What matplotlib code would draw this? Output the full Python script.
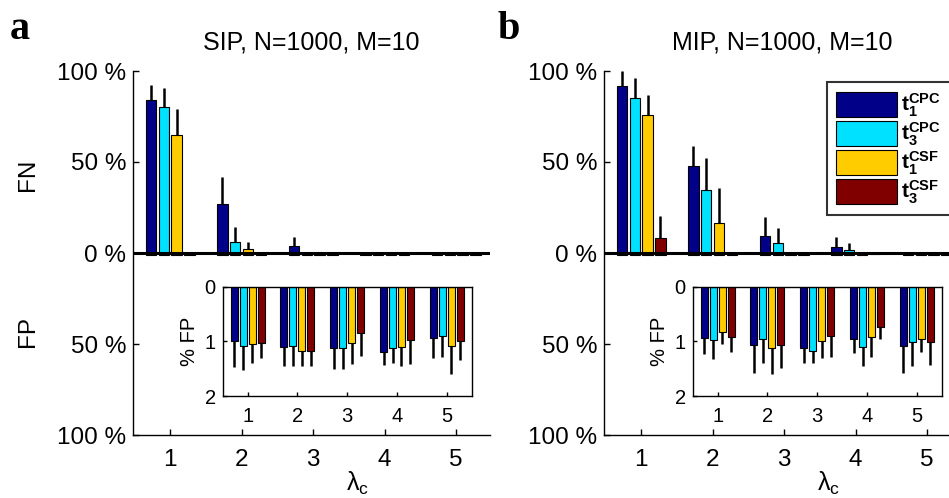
import matplotlib
matplotlib.use("Agg")
import matplotlib.pyplot as plt
import numpy as np

plt.rcParams['font.family'] = ['Liberation Sans', 'DejaVu Sans']
plt.rcParams['mathtext.fontset'] = 'custom'
plt.rcParams['mathtext.rm'] = 'Liberation Sans'
plt.rcParams['mathtext.it'] = 'Liberation Sans:italic'
plt.rcParams['mathtext.bf'] = 'Liberation Sans:bold'

# ---------------- data ----------------
lambdas = [1, 2, 3, 4, 5]
series_labels = [r'$\mathbf{t_1^{CPC}}$', r'$\mathbf{t_3^{CPC}}$',
                 r'$\mathbf{t_1^{CSF}}$', r'$\mathbf{t_3^{CSF}}$']
colors = ['#000088', '#00E0FF', '#FFCC00', '#800000']

# SIP panel: false negatives (%) and upper error
sip_fn_t1cpc = [84, 27, 4, 0, 0]
sip_fn_t3cpc = [80, 6, 0, 0, 0]
sip_fn_t1csf = [65, 2, 0, 0, 0]
sip_fn_t3csf = [0, 0, 0, 0, 0]
sip_fn_err_t1cpc = [8.5, 15, 5, 0, 0]
sip_fn_err_t3cpc = [10.5, 8.5, 0, 0, 0]
sip_fn_err_t1csf = [14, 4, 0, 0, 0]
sip_fn_err_t3csf = [0, 0, 0, 0, 0]

# SIP panel: false positives (%) and lower error
sip_fp_t1cpc = [1.00, 1.11, 1.13, 1.19, 0.93]
sip_fp_t3cpc = [1.085, 1.08, 1.13, 1.13, 0.90]
sip_fp_t1csf = [1.04, 1.17, 1.03, 1.11, 1.08]
sip_fp_t3csf = [1.03, 1.17, 0.84, 0.97, 1.00]
sip_fp_err_t1cpc = [0.47, 0.34, 0.37, 0.24, 0.38]
sip_fp_err_t3cpc = [0.44, 0.37, 0.37, 0.26, 0.39]
sip_fp_err_t1csf = [0.35, 0.28, 0.39, 0.34, 0.51]
sip_fp_err_t3csf = [0.28, 0.28, 0.43, 0.44, 0.35]

# MIP panel: false negatives (%) and upper error
mip_fn_t1cpc = [92, 48, 9.6, 3.5, 0]
mip_fn_t3cpc = [85, 34.6, 5.5, 1.5, 0]
mip_fn_t1csf = [76, 16.6, 0, 0, 0]
mip_fn_t3csf = [8.3, 0, 0, 0, 0]
mip_fn_err_t1cpc = [8, 11, 10.4, 5.2, 0]
mip_fn_err_t3cpc = [11, 17.4, 8.5, 4.2, 0]
mip_fn_err_t1csf = [11, 19, 0, 0, 0]
mip_fn_err_t3csf = [12.2, 0, 0, 0, 0]

# MIP panel: false positives (%) and lower error
mip_fp_t1cpc = [0.93, 1.07, 1.13, 0.95, 1.08]
mip_fp_t3cpc = [0.97, 0.96, 1.17, 1.10, 1.01]
mip_fp_t1csf = [0.83, 1.12, 0.99, 0.92, 0.96]
mip_fp_t3csf = [0.92, 1.07, 0.91, 0.73, 1.01]
mip_fp_err_t1cpc = [0.31, 0.51, 0.26, 0.27, 0.50]
mip_fp_err_t3cpc = [0.36, 0.43, 0.23, 0.36, 0.44]
mip_fp_err_t1csf = [0.21, 0.47, 0.31, 0.36, 0.24]
mip_fp_err_t3csf = [0.27, 0.41, 0.37, 0.23, 0.43]

main_yticks = [100, 50, 0, -50, -100]
main_yticklabels = ['100 %', '50 %', '0 %', '50 %', '100 %']
inset_yticks = [0, 1, 2]

panels = [
    dict(letter='a', title='SIP, N=1000, M=10',
         fn=[sip_fn_t1cpc, sip_fn_t3cpc, sip_fn_t1csf, sip_fn_t3csf],
         fn_err=[sip_fn_err_t1cpc, sip_fn_err_t3cpc, sip_fn_err_t1csf, sip_fn_err_t3csf],
         fp=[sip_fp_t1cpc, sip_fp_t3cpc, sip_fp_t1csf, sip_fp_t3csf],
         fp_err=[sip_fp_err_t1cpc, sip_fp_err_t3cpc, sip_fp_err_t1csf, sip_fp_err_t3csf],
         labels=True, legend=False),
    dict(letter='b', title='MIP, N=1000, M=10',
         fn=[mip_fn_t1cpc, mip_fn_t3cpc, mip_fn_t1csf, mip_fn_t3csf],
         fn_err=[mip_fn_err_t1cpc, mip_fn_err_t3cpc, mip_fn_err_t1csf, mip_fn_err_t3csf],
         fp=[mip_fp_t1cpc, mip_fp_t3cpc, mip_fp_t1csf, mip_fp_t3csf],
         fp_err=[mip_fp_err_t1cpc, mip_fp_err_t3cpc, mip_fp_err_t1csf, mip_fp_err_t3csf],
         labels=False, legend=True),
]

# ---------------- layout ----------------
W, H = 949, 498
fig = plt.figure(figsize=(W / 100, H / 100), dpi=100)

main_rects = [[133 / W, 63 / H, 357 / W, 364 / H],
              [604 / W, 63 / H, 357 / W, 364 / H]]
inset_rects = [[222.7 / W, 102 / H, 249 / W, 109.3 / H],
               [692.7 / W, 102 / H, 249 / W, 109.3 / H]]
letter_x = [10 / W, 498 / W]

x = np.array(lambdas, dtype=float)
n = 4
step = 0.18
bw = 0.145
offsets = (np.arange(n) - (n - 1) / 2) * step

for p, mrect, irect, lx in zip(panels, main_rects, inset_rects, letter_x):
    ax = fig.add_axes(mrect)
    handles = []
    for i in range(n):
        fn = np.array(p['fn'][i])
        fne = np.array(p['fn_err'][i])
        fp = np.array(p['fp'][i])
        fpe = np.array(p['fp_err'][i])
        h = ax.bar(x + offsets[i], fn, bw, color=colors[i], edgecolor='k',
                   linewidth=0.8, zorder=2)
        handles.append(h)
        ax.errorbar(x + offsets[i], fn, yerr=[np.zeros_like(fne), fne], fmt='none',
                    ecolor='k', elinewidth=1.8, capsize=0, zorder=1)
        ax.bar(x + offsets[i], -fp, bw, color=colors[i], edgecolor='k',
               linewidth=0.8, zorder=2)
        ax.errorbar(x + offsets[i], -fp, yerr=[fpe, np.zeros_like(fpe)], fmt='none',
                    ecolor='k', elinewidth=1.2, capsize=0, zorder=1)
    ax.axhline(0, color='k', lw=2.2, zorder=3)
    ax.set_xlim(0.48, 0.48 + 357 / 71.5)
    ax.set_ylim(-100, 100)
    ax.set_xticks(lambdas)
    ax.set_yticks(main_yticks)
    ax.set_yticklabels(main_yticklabels)
    ax.spines['top'].set_visible(False)
    ax.spines['right'].set_visible(False)
    for s in ['left', 'bottom']:
        ax.spines[s].set_linewidth(1.0)
    ax.tick_params(direction='in', length=4, width=1, labelsize=17.5)
    ax.tick_params(axis='x', pad=10)
    ax.tick_params(axis='y', pad=5)
    ax.text(3.62, -0.095, r'$\mathrm{\lambda}_{\mathrm{c}}$',
            transform=ax.get_xaxis_transform(),
            ha='center', va='top', fontsize=18)
    ax.text(0.5, 1.077, p['title'], transform=ax.transAxes, ha='center',
            va='center', fontsize=18)
    fig.text(lx, 1 - 39 / H, p['letter'], family=['Liberation Serif', 'DejaVu Serif'],
             fontweight='bold', fontsize=29, ha='left', va='baseline')
    if p['labels']:
        ax.text(-0.293, 43, 'FN', transform=ax.get_yaxis_transform(), rotation=90,
                ha='center', va='center', fontsize=17.5)
        ax.text(-0.293, -43, 'FP', transform=ax.get_yaxis_transform(), rotation=90,
                ha='center', va='center', fontsize=17.5)
    if p['legend']:
        leg = ax.legend(handles, series_labels, loc='upper left',
                        bbox_to_anchor=(827 / W, 1 - 224 / H, 140 / W, 142 / H),
                        bbox_transform=fig.transFigure, borderaxespad=0,
                        mode='expand',
                        fancybox=False, frameon=True, fontsize=15,
                        handlelength=2.9, handleheight=1.45, labelspacing=0.08,
                        handletextpad=0.2, borderpad=0.45)
        leg.get_frame().set_edgecolor('k')
        leg.get_frame().set_linewidth(1.5)

    # inset
    ia = fig.add_axes(irect)
    ia.set_facecolor('white')
    for i in range(n):
        fp = np.array(p['fp'][i])
        fpe = np.array(p['fp_err'][i])
        ia.bar(x + offsets[i], fp, bw * 0.97, color=colors[i], edgecolor='k',
               linewidth=0.8, zorder=2)
        ia.errorbar(x + offsets[i], fp, yerr=[np.zeros_like(fpe), fpe], fmt='none',
                    ecolor='k', elinewidth=1.8, capsize=0, zorder=1)
    ia.set_xlim(0.5, 5.5)
    ia.set_ylim(2, 0)
    ia.set_xticks(lambdas)
    ia.set_yticks(inset_yticks)
    ia.tick_params(direction='in', length=3, width=1, labelsize=14.5)
    ia.tick_params(axis='x', pad=8)
    ia.tick_params(axis='y', pad=5)
    ia.set_ylabel('% FP', fontsize=14.5, labelpad=4)
    for s in ia.spines.values():
        s.set_linewidth(1.0)

fig.savefig('out.png', dpi=100)
